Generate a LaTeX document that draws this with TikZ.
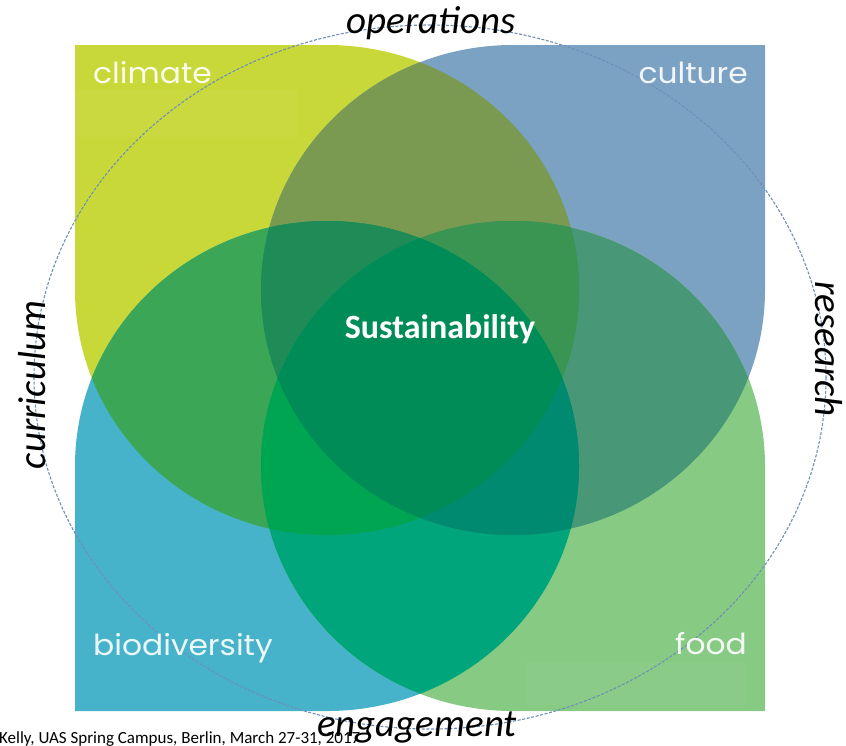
\documentclass[tikz,border=0pt]{standalone}
\usepackage{fontspec}
\usepackage{graphicx}
\setmainfont{Carlito}
\newfontfamily\labelfont{Poppins}
\definecolor{cClim}{HTML}{C8D838}
\definecolor{cCult}{HTML}{7CA2C3}
\definecolor{cBio}{HTML}{46B3CA}
\definecolor{cFood}{HTML}{86CA83}
\definecolor{cCU}{HTML}{799A50}
\definecolor{cCB}{HTML}{3CA657}
\definecolor{cUF}{HTML}{489878}
\definecolor{cBF}{HTML}{00A57C}
\definecolor{cCF}{HTML}{2A9A55}
\definecolor{cUB}{HTML}{1A8C66}
\definecolor{cCUB}{HTML}{1F8C57}
\definecolor{cCUF}{HTML}{3A9553}
\definecolor{cCBF}{HTML}{00A552}
\definecolor{cUBF}{HTML}{008A70}
\definecolor{cAll}{HTML}{008C57}
\definecolor{cDash}{HTML}{6F8FB8}
\tikzset{
  outerlbl/.style={font=\fontsize{39}{39}\selectfont\itshape, text=black, inner sep=0pt},
  quadlbl/.style={font=\fontsize{29}{29}\selectfont\labelfont, text=white, inner sep=0pt, text opacity=0.9},
  centerlbl/.style={font=\fontsize{34}{34}\selectfont\bfseries, text=white, inner sep=0pt},
  footlbl/.style={font=\fontsize{17}{17}\selectfont, text=black, inner sep=0pt},
  dashring/.style={draw=cDash, line width=1.1pt, dash pattern=on 3pt off 1.6pt},
}
\def\pClim{(75,45) -- (327,45) arc[start angle=-90,end angle=180,x radius=252,y radius=245] -- cycle}
\def\pCult{(765,45) -- (765,290) arc[start angle=0,end angle=270,x radius=252,y radius=245] -- cycle}
\def\pBio{(75,711) -- (75,466) arc[start angle=180,end angle=450,x radius=252,y radius=245] -- cycle}
\def\pFood{(765,711) -- (513,711) arc[start angle=90,end angle=360,x radius=252,y radius=245] -- cycle}
\def\allbox{(0,0) rectangle (846,745)}
\begin{document}
\begin{tikzpicture}[x=1pt,y=-1pt]
\useasboundingbox (0,0) rectangle (846,745);
% single shapes
\fill[cClim] \pClim;
\fill[cCult] \pCult;
\fill[cBio] \pBio;
\fill[cFood] \pFood;
% pairs
\begin{scope}\clip \pClim; \clip \pCult; \fill[cCU] \allbox; \end{scope}
\begin{scope}\clip \pClim; \clip \pBio; \fill[cCB] \allbox; \end{scope}
\begin{scope}\clip \pCult; \clip \pFood; \fill[cUF] \allbox; \end{scope}
\begin{scope}\clip \pBio; \clip \pFood; \fill[cBF] \allbox; \end{scope}
\begin{scope}\clip \pClim; \clip \pFood; \fill[cCF] \allbox; \end{scope}
\begin{scope}\clip \pCult; \clip \pBio; \fill[cUB] \allbox; \end{scope}
% triples
\begin{scope}\clip \pClim; \clip \pCult; \clip \pBio; \fill[cCUB] \allbox; \end{scope}
\begin{scope}\clip \pClim; \clip \pCult; \clip \pFood; \fill[cCUF] \allbox; \end{scope}
\begin{scope}\clip \pClim; \clip \pBio; \clip \pFood; \fill[cCBF] \allbox; \end{scope}
\begin{scope}\clip \pCult; \clip \pBio; \clip \pFood; \fill[cUBF] \allbox; \end{scope}
% all four
\begin{scope}\clip \pClim; \clip \pCult; \clip \pBio; \clip \pFood; \fill[cAll] \allbox; \end{scope}
% faint label boxes
\fill[white, opacity=0.04] (75,90) rectangle (298,137);
\fill[white, opacity=0.04] (525,662) rectangle (745,705);
% dashed ring
\draw[dashring] (430,377) ellipse [x radius=396, y radius=352];
% quadrant labels
\node[quadlbl, anchor=base west] (climate) at (93,83) {\scalebox{1.08}[1]{climate}};
\node[quadlbl, anchor=base east] (culture) at (748,83) {\scalebox{1.08}[1]{culture}};
\node[quadlbl, anchor=base west] (biodiversity) at (93,655) {\scalebox{1.08}[1]{biodiversity}};
\node[quadlbl, anchor=base east] (food) at (747,654) {\scalebox{1.08}[1]{food}};
% centre
\node[centerlbl, anchor=base] (sust) at (440,338) {Sustainability};
% footer
\node[footlbl, anchor=base west] (footer) at (-1,743) {Kelly, UAS Spring Campus, Berlin, March 27-31, 2017};
% outer labels
\node[outerlbl, anchor=base] (operations) at (431,33) {operations};
\node[outerlbl, anchor=base] (engagement) at (417,736) {engagement};
\node[outerlbl, anchor=base, rotate=90] (curriculum) at (45,385) {curriculum};
\node[outerlbl, anchor=base, rotate=-90] (research) at (815,349) {research};
\end{tikzpicture}
\end{document}
